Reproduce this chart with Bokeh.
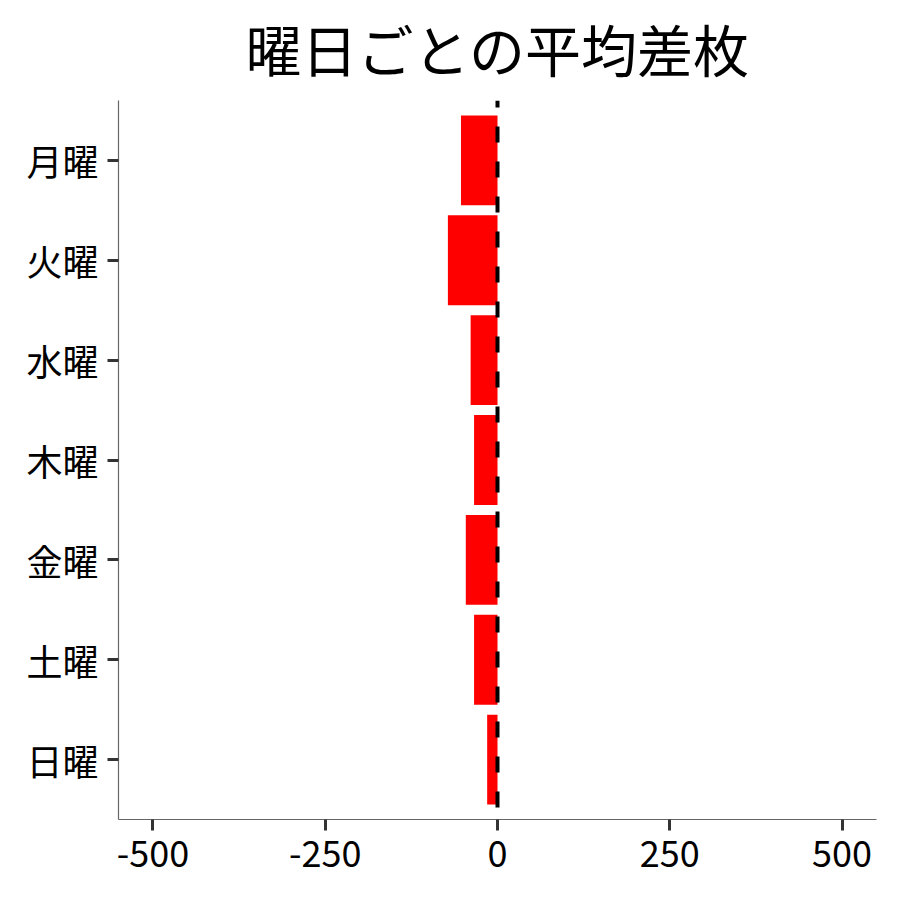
from bokeh.plotting import figure
from bokeh.models import FactorRange, Range1d, Span, FixedTicker, ColumnDataSource
from bokeh.embed import file_html
from bokeh.resources import INLINE

days = ["月曜", "火曜", "水曜", "木曜", "金曜", "土曜", "日曜"]
avg_diff = [-53, -72, -39, -34, -46, -34, -15]
x_ticks = [-500, -250, 0, 250, 500]
title_text = "曜日ごとの平均差枚"

FONT = "Noto Sans CJK JP"
TITLE_FONT = "'Liberation Sans', 'Noto Sans CJK JP'"

src = ColumnDataSource(dict(day=days, val=avg_diff, zero=[0] * len(days)))

p = figure(
    width=900, height=900,
    y_range=FactorRange(factors=list(reversed(days)), range_padding=0.2 / 7),
    x_range=Range1d(-550, 550),
    output_backend="svg", toolbar_location=None,
    min_border_left=118, min_border_right=24, min_border_top=100, min_border_bottom=81,
)

p.hbar(y="day", left="val", right="zero", height=0.9, source=src,
       fill_color="#ff0000", line_color=None)

p.add_layout(Span(location=0, dimension="height", line_color="black",
                  line_width=4, line_dash="16 19", line_dash_offset=9))

p.title.text = title_text
p.title.align = "center"
p.title.text_font = TITLE_FONT
p.title.text_font_size = "56px"
p.title.text_font_style = "normal"
p.title.text_color = "black"
p.title.standoff = 34

p.xgrid.visible = False
p.ygrid.visible = False
p.outline_line_color = None
p.background_fill_color = "white"

p.xaxis.ticker = FixedTicker(ticks=x_ticks)
p.xaxis.major_label_overrides = {t: str(t) for t in x_ticks}

for ax in (p.xaxis, p.yaxis):
    ax.axis_line_color = "#666666"
    ax.axis_line_width = 1.2
    ax.major_tick_line_color = "#333333"
    ax.major_tick_line_width = 3
    ax.major_tick_out = 11
    ax.major_tick_in = 0
    ax.minor_tick_line_color = None
    ax.major_label_text_font = FONT
    ax.major_label_text_font_size = "36px"
    ax.major_label_text_color = "black"

p.xaxis.major_label_standoff = 10
p.yaxis.major_label_standoff = 9

open("out.html", "w").write(file_html(p, INLINE))
